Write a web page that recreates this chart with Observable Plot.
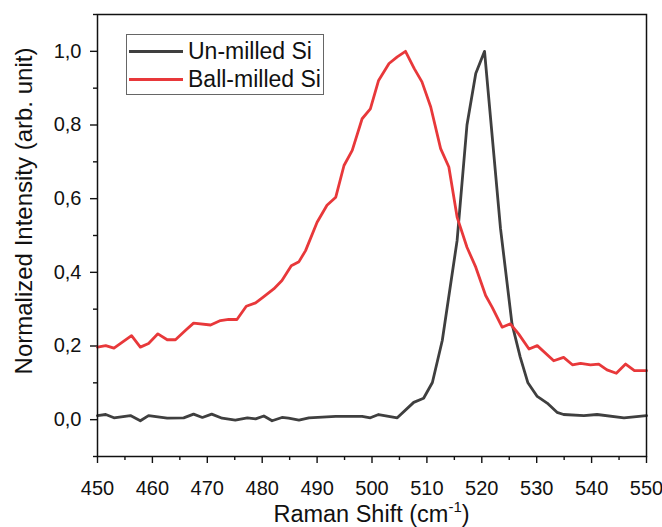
<!DOCTYPE html>
<html>
<head>
<meta charset="utf-8">
<script src="https://cdn.jsdelivr.net/npm/d3@7"></script>
<script src="https://cdn.jsdelivr.net/npm/@observablehq/plot@0.6"></script>
<style>
  body { margin: 0; background: #fff; }
  #wrap { position: relative; width: 662px; height: 527px; font-family: "Liberation Sans", Arial, sans-serif; }
  #legend { position: absolute; left: 126px; top: 34px; width: 196px; height: 59px; border: 1px solid #666; background: #fff; }
  .row { position: absolute; left: 2px; display: flex; align-items: center; height: 28px; font-size: 23px; color: #111; }
  .sw { width: 54px; height: 0; border-top: 3px solid; margin-right: 5px; }
  #xt { position: absolute; left: 97px; width: 549px; top: 503px; line-height: 1; text-align: center; font-size: 23.5px; color: #111; }
  #xt sup { font-size: 15px; vertical-align: 10px; line-height: 0; }
  #yt { position: absolute; left: 24px; top: 211px; line-height: 1; transform: translate(-50%, -50%) rotate(-90deg); white-space: nowrap; font-size: 24px; color: #111; }
</style>
</head>
<body>
<div id="wrap"></div>
<script>
const seriesNames = ["Un-milled Si", "Ball-milled Si"];
const seriesColors = ["#3f3f3f", "#e8383a"];

const unmilledShift = [450.0,451.5,453.0,456.0,457.8,459.3,462.7,465.7,467.5,469.1,470.8,472.7,475.1,477.3,478.8,480.3,481.8,483.6,484.8,486.7,488.5,493.4,498.2,499.7,501.2,504.6,507.6,509.4,511.0,512.8,515.5,517.3,518.9,520.5,523.4,525.5,527.0,528.4,530.1,531.9,533.7,534.9,538.6,541.0,545.9,550.0];
const unmilledIntensity = [0.011,0.014,0.005,0.011,-0.003,0.011,0.004,0.005,0.015,0.006,0.015,0.004,-0.001,0.005,0.002,0.010,-0.003,0.006,0.004,-0.001,0.005,0.009,0.009,0.005,0.014,0.005,0.047,0.058,0.101,0.215,0.486,0.80,0.94,1.0,0.52,0.26,0.17,0.10,0.063,0.045,0.02,0.014,0.011,0.014,0.005,0.011];

const milledShift = [450.0,451.5,453.0,456.2,457.8,459.3,461.0,462.7,464.2,466.0,467.5,470.6,472.4,473.9,475.4,477.1,478.8,480.3,482.1,483.6,485.3,486.7,487.9,490.0,491.8,493.4,494.9,496.4,498.2,499.7,501.2,503.1,504.6,506.1,507.7,509.1,510.7,512.5,514.0,515.5,517.3,518.9,520.7,521.9,523.7,525.2,526.7,528.6,530.1,533.1,534.9,536.5,538.0,539.8,541.3,542.8,544.5,546.2,547.8,550.0];
const milledIntensity = [0.197,0.201,0.194,0.228,0.197,0.207,0.233,0.217,0.217,0.242,0.262,0.257,0.269,0.272,0.272,0.308,0.317,0.334,0.355,0.378,0.418,0.429,0.459,0.536,0.582,0.604,0.690,0.731,0.817,0.844,0.921,0.967,0.985,1.0,0.953,0.917,0.849,0.736,0.686,0.550,0.468,0.414,0.337,0.305,0.251,0.260,0.233,0.192,0.201,0.160,0.169,0.149,0.153,0.149,0.151,0.135,0.126,0.151,0.133,0.133];

const xTicks = [450,460,470,480,490,500,510,520,530,540,550];
const xMinor = [455,465,475,485,495,505,515,525,535,545];
const yTicks = [0,0.2,0.4,0.6,0.8,1.0];
const yMinor = [-0.1,0.1,0.3,0.5,0.7,0.9,1.1];
const xDomain = [450,550];
const yDomain = [-0.1,1.1];

const unmilled = unmilledShift.map((x,i) => ({x, y: unmilledIntensity[i]}));
const milled = milledShift.map((x,i) => ({x, y: milledIntensity[i]}));
const fmt = d => d.toFixed(1).replace(".", ",");

const chart = Plot.plot({
  width: 662, height: 527,
  marginLeft: 97, marginRight: 16, marginTop: 14, marginBottom: 71,
  style: {fontFamily: "'Liberation Sans', Arial, sans-serif", fontSize: "20px", color: "#111", background: "#fff"},
  x: {domain: xDomain},
  y: {domain: yDomain},
  marks: [
    Plot.axisX(xMinor, {tickSize: 4, tickFormat: () => "", label: null, stroke: "#111", strokeWidth: 1.4}),
    Plot.axisY(yMinor, {tickSize: 4, tickFormat: () => "", label: null, stroke: "#111", strokeWidth: 1.4}),
    Plot.axisX(xTicks, {tickSize: 7, tickPadding: 17, tickFormat: d => String(d), label: null, stroke: "#111", strokeWidth: 1.4, fontSize: 20}),
    Plot.axisY(yTicks, {tickSize: 7, tickPadding: 9, tickFormat: fmt, label: null, stroke: "#111", strokeWidth: 1.4, fontSize: 20}),
    Plot.line(unmilled, {x: "x", y: "y", stroke: seriesColors[0], strokeWidth: 2.8}),
    Plot.line(milled, {x: "x", y: "y", stroke: seriesColors[1], strokeWidth: 2.8}),
    Plot.frame({stroke: "#111", strokeWidth: 1.5})
  ]
});

const wrap = document.getElementById("wrap");
wrap.appendChild(chart);

const legend = document.createElement("div");
legend.id = "legend";
seriesNames.forEach((name, i) => {
  const row = document.createElement("div");
  row.className = "row";
  row.style.top = (i * 28 + 2) + "px";
  row.innerHTML = `<span class="sw" style="border-color:${seriesColors[i]}"></span><span>${name}</span>`;
  legend.appendChild(row);
});
wrap.appendChild(legend);

const xt = document.createElement("div");
xt.id = "xt";
xt.innerHTML = "Raman Shift (cm<sup>-1</sup>)";
wrap.appendChild(xt);

const yt = document.createElement("div");
yt.id = "yt";
yt.textContent = "Normalized Intensity (arb. unit)";
wrap.appendChild(yt);
</script>
</body>
</html>
